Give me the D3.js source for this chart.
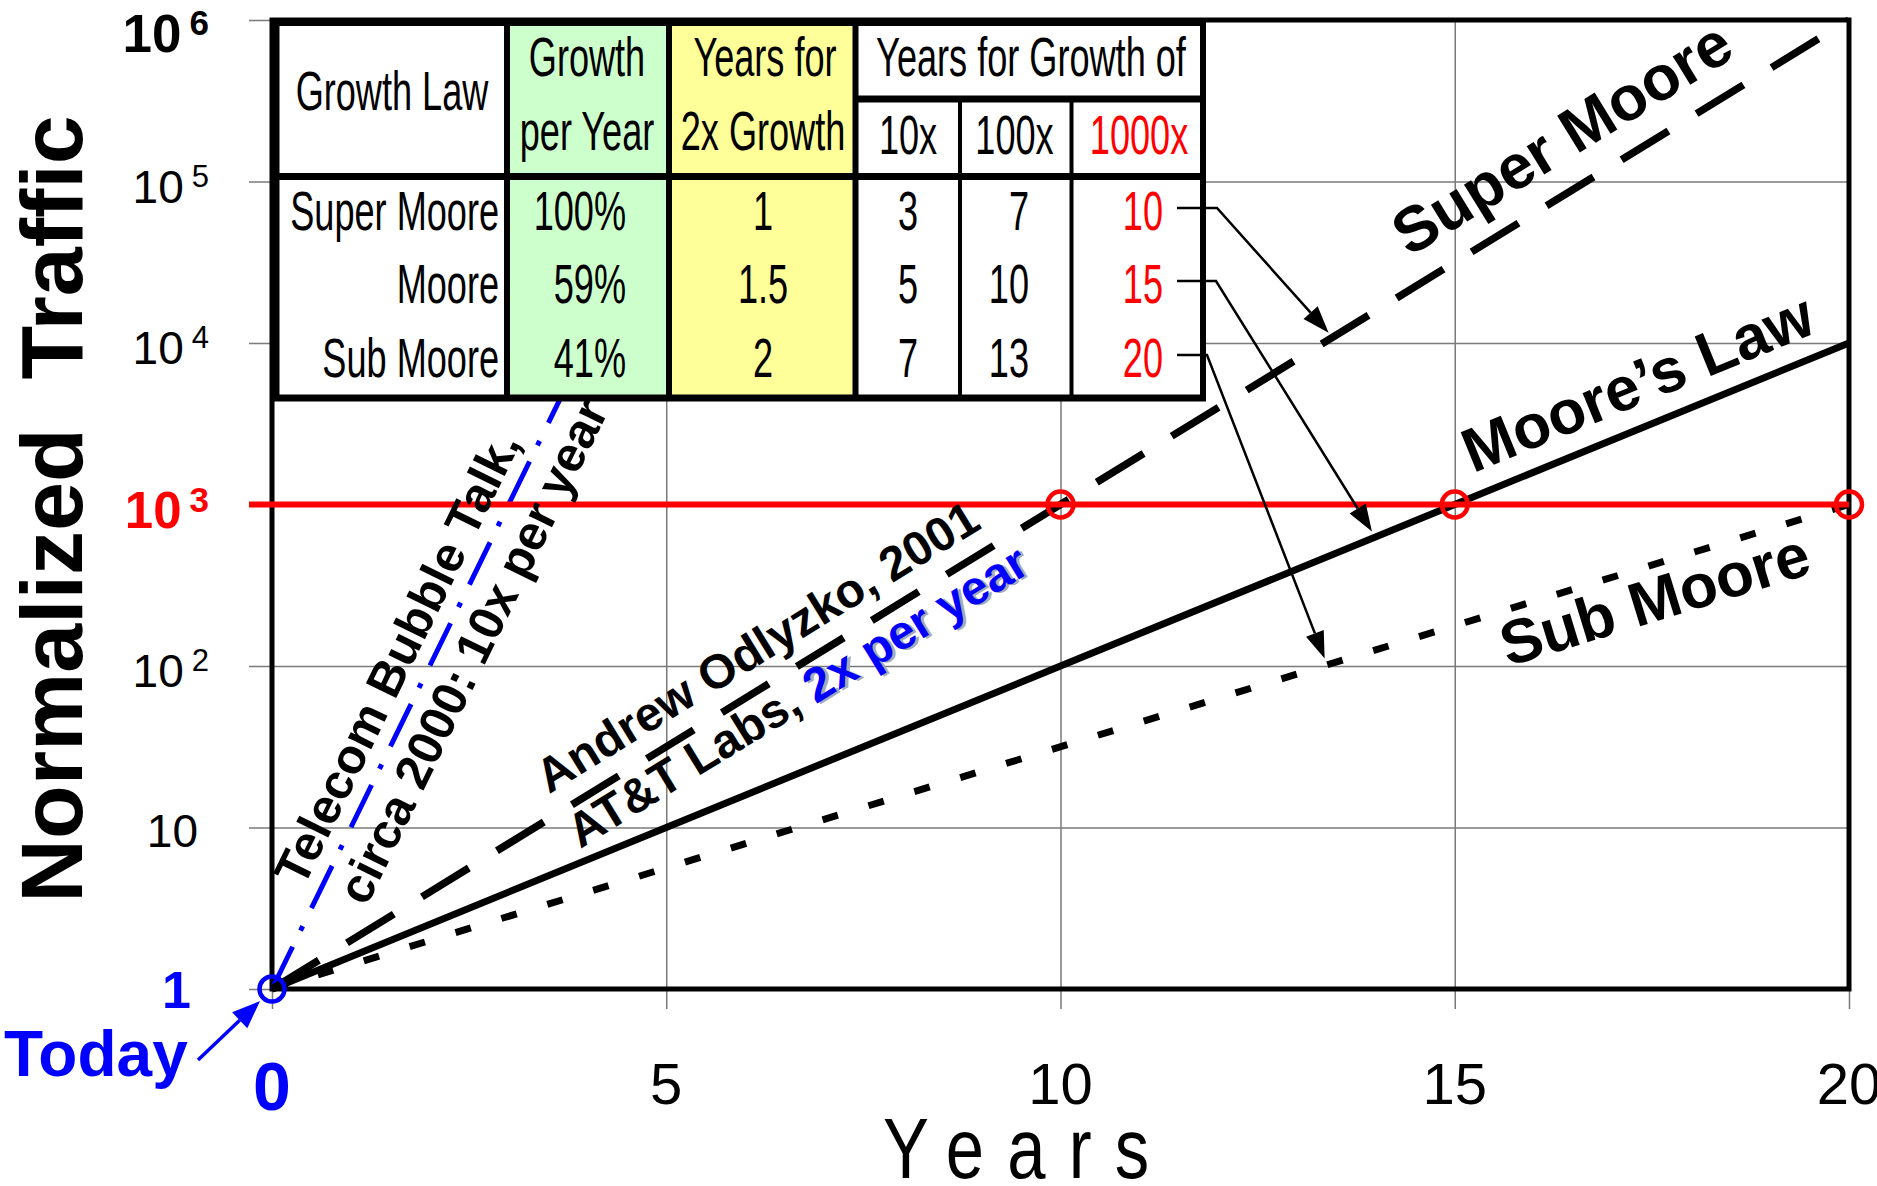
<!DOCTYPE html>
<html>
<head>
<meta charset="utf-8">
<script src="https://cdn.jsdelivr.net/npm/d3@7"></script>
<style>
  html, body { margin: 0; padding: 0; background: #ffffff; }
  svg { display: block; }
  text { font-family: "Liberation Sans", Arial, Helvetica, sans-serif; }
</style>
</head>
<body>
<svg id="chart" width="1877" height="1186"></svg>
<script>
// ---------------- DATA ----------------
const xTickValues = [0, 5, 10, 15, 20];
const xTickLabels = ["0", "5", "10", "15", "20"];
const yTickValues = [1, 10, 100, 1000, 10000, 100000, 1000000];
const yTickBases = ["1", "10", "10", "10", "10", "10", "10"];
const yTickExponents = ["", "", "2", "3", "4", "5", "6"];

// [year, normalized traffic]
const superMoore = [[0, 1], [10, 1000], [20, 1000000]];
const moore = [[0, 1], [5, 10], [10, 100], [15, 1000], [20, 10000]];
const subMoore = [[0, 1], [20, 1000]];
const bubble = [[0, 1], [6, 1000000]];

const milestoneValue = 1000;
const milestoneYears = [10, 15, 20];
const todayPoint = [0, 1];

// table
const growthLaws = ["Super Moore", "Moore", "Sub Moore"];
const growthPerYear = ["100%", "59%", "41%"];
const yearsFor2x = ["1", "1.5", "2"];
const yearsFor10x = ["3", "5", "7"];
const yearsFor100x = ["7", "10", "13"];
const yearsFor1000x = ["10", "15", "20"];
const growthHeaders = ["10x", "100x", "1000x"];
// year on each law's line that the arrow from its 1000x cell points to
const arrowTargetYears = [13.4, 13.95, 13.35];

// ---------------- SETUP ----------------
const svg = d3.select("#chart");
const plot = { left: 272, right: 1849, top: 20, bottom: 989 };
const x = d3.scaleLinear().domain([0, 20]).range([plot.left, plot.right]);
const y = d3.scaleLog().domain([1, 1e6]).range([plot.bottom, plot.top]);
const BLUE = "#0000FF", RED = "#FF0000", GRID = "#7a7a7a";

// ---------------- GRID (axes) ----------------
const gy = svg.append("g").attr("transform", `translate(${plot.left},0)`)
  .call(d3.axisLeft(y).tickValues(yTickValues).tickSize(-(plot.right - plot.left)).tickSizeOuter(0).tickFormat(""));
gy.select(".domain").remove();
gy.selectAll(".tick line").attr("x1", -23).attr("stroke", GRID).attr("stroke-width", 1.5);

const gx = svg.append("g").attr("transform", `translate(0,${plot.bottom})`)
  .call(d3.axisBottom(x).tickValues(xTickValues).tickSize(-(plot.bottom - plot.top)).tickSizeOuter(0).tickFormat(""));
gx.select(".domain").remove();
gx.selectAll(".tick line").attr("y1", 20).attr("stroke", GRID).attr("stroke-width", 1.5);

// frame
svg.append("rect").attr("x", plot.left).attr("y", plot.top)
  .attr("width", plot.right - plot.left).attr("height", plot.bottom - plot.top)
  .attr("fill", "none").attr("stroke", "#000").attr("stroke-width", 5);

// ---------------- LINES ----------------
const line = d3.line().x(d => x(d[0])).y(d => y(d[1]));
const series = [
  { data: bubble, stroke: BLUE, width: 5, dash: "47,18,5,20" },
  { data: subMoore, stroke: "#000", width: 7, dash: "16,32" },
  { data: moore, stroke: "#000", width: 7, dash: null },
  { data: superMoore, stroke: "#000", width: 7.5, dash: "55,33" }
];
svg.append("g").selectAll("path").data(series).join("path")
  .attr("d", d => line(d.data))
  .attr("fill", "none")
  .attr("stroke", d => d.stroke)
  .attr("stroke-width", d => d.width)
  .attr("stroke-dasharray", d => d.dash);

// milestone line
svg.append("line")
  .attr("x1", plot.left - 23).attr("x2", plot.right)
  .attr("y1", y(milestoneValue)).attr("y2", y(milestoneValue))
  .attr("stroke", RED).attr("stroke-width", 6);

svg.append("g").selectAll("circle").data(milestoneYears).join("circle")
  .attr("cx", d => x(d)).attr("cy", y(milestoneValue)).attr("r", 13)
  .attr("fill", "none").attr("stroke", RED).attr("stroke-width", 4.5);

svg.append("circle").attr("cx", x(todayPoint[0])).attr("cy", y(todayPoint[1])).attr("r", 12.5)
  .attr("fill", "none").attr("stroke", BLUE).attr("stroke-width", 4.5);

// ---------------- TABLE ----------------
const T = { top: 22, sub: 99, head: 176.5, bottom: 398,
  cols: [276.5, 507, 669, 855.5, 960, 1071.5, 1203] };
const colFills = ["#ffffff", "#CCFFCC", "#FFFF99", "#ffffff", "#ffffff", "#ffffff"];
const tg = svg.append("g");
tg.selectAll("rect.fill").data(colFills).join("rect").attr("class", "fill")
  .attr("x", (d, i) => T.cols[i]).attr("y", T.top)
  .attr("width", (d, i) => T.cols[i + 1] - T.cols[i]).attr("height", T.bottom - T.top)
  .attr("fill", d => d);

function hline(x1, x2, yy, w) {
  tg.append("line").attr("x1", x1).attr("x2", x2).attr("y1", yy).attr("y2", yy)
    .attr("stroke", "#000").attr("stroke-width", w);
}
function vline(xx, y1, y2, w) {
  tg.append("line").attr("x1", xx).attr("x2", xx).attr("y1", y1).attr("y2", y2)
    .attr("stroke", "#000").attr("stroke-width", w);
}
const L0 = T.cols[0] - 3, R0 = T.cols[6] + 3;
hline(L0, R0, T.top, 8);
hline(L0, R0, T.head, 7);
hline(L0, R0, T.bottom, 7);
hline(T.cols[3], R0, T.sub, 7);
[0, 1, 2, 3, 6].forEach(i => vline(T.cols[i], T.top, T.bottom + 3, 6));
[4, 5].forEach(i => vline(T.cols[i], T.sub, T.bottom, 4));

const NS = 0.645, TFS = 56;
function ntext(str, xx, yy, anchor, fill) {
  return tg.append("text")
    .attr("transform", `translate(${xx},${yy}) scale(${NS},1)`)
    .attr("text-anchor", anchor).attr("font-size", TFS)
    .attr("fill", fill || "#000").text(str);
}
ntext("Growth Law", 392, 110, "middle");
ntext("Growth", 587, 76, "middle");
ntext("per Year", 587, 150, "middle");
ntext("Years for", 765, 76, "middle");
ntext("2x Growth", 763, 150, "middle");
ntext("Years for Growth of", 1031, 76, "middle");
const subHeadX = [908, 1014.5, 1139];
growthHeaders.forEach((h, i) => ntext(h, subHeadX[i], 154, "middle", i === 2 ? RED : "#000"));

const rowBase = [230, 303, 377];
growthLaws.forEach((s, i) => ntext(s, 499, rowBase[i], "end"));
growthPerYear.forEach((s, i) => ntext(s, 626, rowBase[i], "end"));
yearsFor2x.forEach((s, i) => ntext(s, 763, rowBase[i], "middle"));
yearsFor10x.forEach((s, i) => ntext(s, 918, rowBase[i], "end"));
yearsFor100x.forEach((s, i) => ntext(s, 1029, rowBase[i], "end"));
yearsFor1000x.forEach((s, i) => ntext(s, 1163, rowBase[i], "end", RED));

// ---------------- ARROWS ----------------
function arrow(pts, color, w, headLen, headHalf) {
  const n = pts.length;
  const [tx, ty] = pts[n - 1], [px, py] = pts[n - 2];
  const ang = Math.atan2(ty - py, tx - px);
  const bx = tx - headLen * Math.cos(ang), by = ty - headLen * Math.sin(ang);
  const shaft = pts.slice(0, n - 1).concat([[bx, by]]);
  svg.append("path").attr("d", d3.line()(shaft)).attr("fill", "none")
    .attr("stroke", color).attr("stroke-width", w);
  const ox = -Math.sin(ang) * headHalf, oy = Math.cos(ang) * headHalf;
  svg.append("path")
    .attr("d", `M${tx},${ty}L${bx + ox},${by + oy}L${bx - ox},${by - oy}Z`)
    .attr("fill", color);
}
function yOnSeries(data, t) {
  for (let i = 0; i < data.length - 1; i++) {
    const a = data[i], b = data[i + 1];
    if (t >= a[0] && t <= b[0]) {
      const f = (t - a[0]) / (b[0] - a[0]);
      return y(a[1]) + f * (y(b[1]) - y(a[1]));
    }
  }
  return y(data[data.length - 1][1]);
}
const lawSeries = [superMoore, moore, subMoore];
const elbowX = [1217, 1216, 1207];
lawSeries.forEach((s, i) => {
  const ry = rowBase[i] - 22;
  const tx = x(arrowTargetYears[i]);
  const ty = yOnSeries(s, arrowTargetYears[i]) - 7;
  arrow([[1177, ry], [elbowX[i], ry], [tx, ty]], "#000", 2.5, 27, 9.5);
});

// Today arrow
arrow([[198, 1060], [x(todayPoint[0]) - 12, y(todayPoint[1]) + 12]], BLUE, 3.5, 28, 11);

// ---------------- AXIS LABELS ----------------
yTickValues.forEach((v, i) => {
  const isOne = v === 1, isTen = v === 10, isMil = v === milestoneValue, isTop = v === 1e6;
  const bold = isOne || isMil || isTop;
  const fill = isOne ? BLUE : (isMil ? RED : "#000");
  const size = isOne ? 52 : (isMil ? 51 : (isTop ? 53 : 46));
  const base = isTop ? plot.top + 32 : y(v) + (isMil ? 23 : (isOne ? 19 : (isTen ? 19 : 21)));
  const right = isOne ? 191 : (isTen ? 198 : 209);
  const t = svg.append("text").attr("x", right).attr("y", base)
    .attr("text-anchor", "end").attr("font-size", size)
    .attr("font-weight", bold ? "bold" : "normal").attr("fill", fill);
  t.append("tspan").text(yTickBases[i]);
  if (yTickExponents[i]) {
    t.append("tspan").attr("dx", 8).attr("dy", isTop ? -17 : -16)
      .attr("font-size", bold ? 35 : 31).text(yTickExponents[i]);
  }
});

xTickValues.forEach((v, i) => {
  const first = i === 0;
  svg.append("text").attr("x", x(v)).attr("y", first ? 1110 : 1104)
    .attr("text-anchor", "middle").attr("font-size", first ? 68 : 58)
    .attr("font-weight", first ? "bold" : "normal")
    .attr("fill", first ? BLUE : "#000").text(xTickLabels[i]);
});

svg.append("text").attr("x", 4).attr("y", 1076).attr("font-size", 64)
  .attr("font-weight", "bold").attr("fill", BLUE).text("Today");

svg.append("text")
  .attr("transform", "translate(82,509) rotate(-90)")
  .attr("text-anchor", "middle").attr("font-size", 88).attr("font-weight", "bold")
  .style("white-space", "pre").text("Normalized  Traffic");

svg.append("text")
  .attr("transform", "translate(883,1178) scale(0.8,1)")
  .attr("text-anchor", "start").attr("font-size", 86).attr("letter-spacing", 29)
  .text("Years");

// ---------------- LINE ANNOTATIONS ----------------
function along(data, a, p) {
  const p0 = [x(data[0][0]), y(data[0][1])];
  const last = data[data.length - 1];
  const p1 = [x(last[0]), y(last[1])];
  const dx = p1[0] - p0[0], dy = p1[1] - p0[1], L = Math.hypot(dx, dy);
  const ux = dx / L, uy = dy / L, nx = -uy, ny = ux;
  return { x: p0[0] + ux * a + nx * p, y: p0[1] + uy * a + ny * p, ang: Math.atan2(dy, dx) * 180 / Math.PI };
}
function label(data, a, p, size) {
  const q = along(data, a, p);
  return svg.append("text")
    .attr("transform", `translate(${q.x},${q.y}) rotate(${q.ang})`)
    .attr("font-size", size).attr("font-weight", "bold").attr("fill", "#000");
}
label(superMoore, 1352, -28, 63).text("Super Moore");
label(moore, 1307, -22, 62).text("Moore\u2019s Law");
label(subMoore, 1276, 55, 62).text("Sub Moore");
label(superMoore, 338, -21, 48).text("Andrew Odlyzko, 2001");

// shadow of "2x per year"
const sh = label(superMoore, 336, 42, 48).attr("dx", 2.5).attr("dy", 2.5);
sh.append("tspan").attr("fill", "none").text("AT&T Labs, ");
sh.append("tspan").attr("fill", "#a9a9b9").text("2x per year");
const at = label(superMoore, 336, 42, 48);
at.append("tspan").text("AT&T Labs, ");
at.append("tspan").attr("fill", BLUE).text("2x per year");

label(bubble, 104, -16, 49).text("Telecom Bubble Talk,");
label(bubble, 115, 49, 49).text("circa 2000: 10x per year");
</script>
</body>
</html>
